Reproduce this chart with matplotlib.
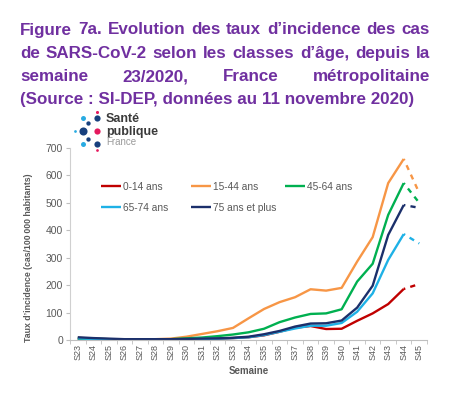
import matplotlib
matplotlib.use("Agg")
import matplotlib.pyplot as plt
import numpy as np

plt.rcParams["font.family"] = ["Liberation Sans", "DejaVu Sans"]

weeks = [f"S{w}" for w in range(23, 46)]
age_groups = ["0-14 ans", "15-44 ans", "45-64 ans", "65-74 ans", "75 ans et plus"]
colors = ["#C00000", "#F79646", "#00B050", "#1EB1E6", "#1B2F6B"]

rate_0_14 = [3, 2, 2, 1, 1, 1, 2, 3, 4, 5, 7, 10, 17, 30, 45, 51, 40, 41, 70, 97, 131, 186, 204]
rate_15_44 = [8, 5, 3, 2, 2, 3, 5, 12, 22, 32, 44, 79, 113, 138, 156, 185, 180, 190, 286, 375, 572, 660, 536]
rate_45_64 = [5, 4, 3, 2, 2, 2, 3, 6, 9, 14, 20, 28, 41, 65, 82, 95, 97, 112, 213, 278, 456, 572, 500]
rate_65_74 = [6, 4, 3, 2, 2, 2, 2, 3, 4, 5, 7, 10, 18, 30, 42, 52, 52, 62, 103, 170, 292, 386, 352]
rate_75_plus = [10, 7, 5, 3, 3, 3, 3, 4, 5, 6, 8, 12, 21, 33, 49, 60, 61, 71, 118, 198, 383, 492, 482]
series = [rate_0_14, rate_15_44, rate_45_64, rate_65_74, rate_75_plus]

title_lines = [
    "Figure 7a. Evolution des taux d\u2019incidence des cas",
    "de SARS-CoV-2 selon les classes d\u2019\u00e2ge, depuis la",
    "semaine 23/2020, France m\u00e9tropolitaine",
    "(Source : SI-DEP, donn\u00e9es au 11 novembre 2020)",
]
purple = "#7030A0"
grey = "#595959"

W, H = 450, 393
fig = plt.figure(figsize=(W / 100, H / 100), dpi=100)
renderer = fig.canvas.get_renderer()


def px(x, y):
    return x / W, 1 - y / H


def text_width(s, size):
    t = fig.text(0, 0, s, fontsize=size, fontweight="bold")
    w = t.get_window_extent(renderer).width
    t.remove()
    return w


# justified title block (last line left aligned)
left_px, right_px = 20, 430
size = 12 * 393 / text_width(title_lines[-1], 12)
for i, line in enumerate(title_lines):
    ypos = 30 + i * 23.3
    if i == len(title_lines) - 1:
        fig.text(*px(left_px, ypos), line, fontsize=size, fontweight="bold",
                 color=purple, va="center")
        continue
    words = line.split(" ")
    extra = (right_px - left_px - text_width(line, size)) / (len(words) - 1)
    for k, w in enumerate(words):
        offset = text_width(" ".join(words[:k]) + " ", size) if k else 0
        fig.text(*px(left_px + offset + k * extra, ypos), w, fontsize=size,
                 fontweight="bold", color=purple, va="center")

# logo
logo_dots = [
    (97, 112, 2.5, "#E5195E"), (83, 118, 4, "#29ABE2"), (97, 118, 5, "#17407E"),
    (88, 123, 3.5, "#17407E"), (75, 131, 2.2, "#29ABE2"), (83, 131, 6.5, "#17407E"),
    (97, 131, 5, "#E5195E"), (88, 138.5, 3.5, "#17407E"), (83, 144, 4, "#29ABE2"),
    (97, 144, 5, "#17407E"), (97, 150, 2.2, "#E5195E"),
]
logo_ax = fig.add_axes([0, 0, 1, 1], zorder=5)
logo_ax.set_xlim(0, W)
logo_ax.set_ylim(H, 0)
logo_ax.axis("off")
for lx, ly, r, c in logo_dots:
    logo_ax.scatter(lx, ly, s=r ** 2 * 0.8, color=c, linewidths=0)
# va="baseline" on a two-line text anchors the last line's baseline
logo_ax.text(106, 135, "Sant\u00e9\npublique", fontsize=9, fontweight="bold",
             color="#3B3B3B", va="baseline", linespacing=1.1)
logo_ax.text(106, 145, "France", fontsize=7, color="#9A9A9A", va="baseline")

ax = fig.add_axes([70 / W, 1 - 340 / H, (427 - 70) / W, (340 - 148) / H])
x = np.arange(len(weeks))
handles = []
for name, vals, c in zip(age_groups, series, colors):
    h, = ax.plot(x[:-1], vals[:-1], color=c, lw=1.7, label=name, solid_capstyle="butt")
    ax.plot(x[-2:], vals[-2:], color=c, lw=1.7, linestyle=(1.5, (2.2, 2.2)))
    handles.append(h)

ax.set_xlim(-0.5, len(weeks) - 0.5)
ax.set_ylim(0, 700)
ax.set_yticks(range(0, 701, 100))
ax.set_xticks(x)
ax.set_xticklabels(weeks, rotation=90, fontsize=6.5, color=grey)
ax.set_xticks(np.arange(-0.5, len(weeks)), minor=True)
ax.tick_params(axis="x", which="major", length=0, pad=3)
ax.tick_params(axis="x", which="minor", length=3, color="#BFBFBF")
ax.tick_params(axis="y", length=3, color="#BFBFBF", labelsize=7.5, labelcolor=grey, pad=2)
for s in ["top", "right"]:
    ax.spines[s].set_visible(False)
ax.spines["left"].set_color("#D0D0D0")
ax.spines["bottom"].set_color("#BFBFBF")

ax.set_xlabel("Semaine", fontsize=7, fontweight="bold", color=grey, labelpad=4)
ax.set_ylabel("Taux d\u2019incidence (cas/100\u202f000 habitants)", fontsize=6.3,
              fontweight="bold", color=grey)
ax.yaxis.set_label_coords(-0.105, 0.43)

# legend laid out row by row with fixed column starts, as in the original
leg_kw = dict(loc="upper left", frameon=False, fontsize=7.3, labelcolor=grey,
              handlelength=2.0, handletextpad=0.2, labelspacing=1.1, borderaxespad=0)
order = [0, 3, 1, 4]
leg1 = ax.legend([handles[i] for i in order], [age_groups[i] for i in order],
                 bbox_to_anchor=(0.075, 0.845), ncol=2, columnspacing=2.2, **leg_kw)
ax.add_artist(leg1)
ax.legend([handles[2]], [age_groups[2]], bbox_to_anchor=(0.59, 0.845), **leg_kw)

fig.savefig("out.png", dpi=100)
